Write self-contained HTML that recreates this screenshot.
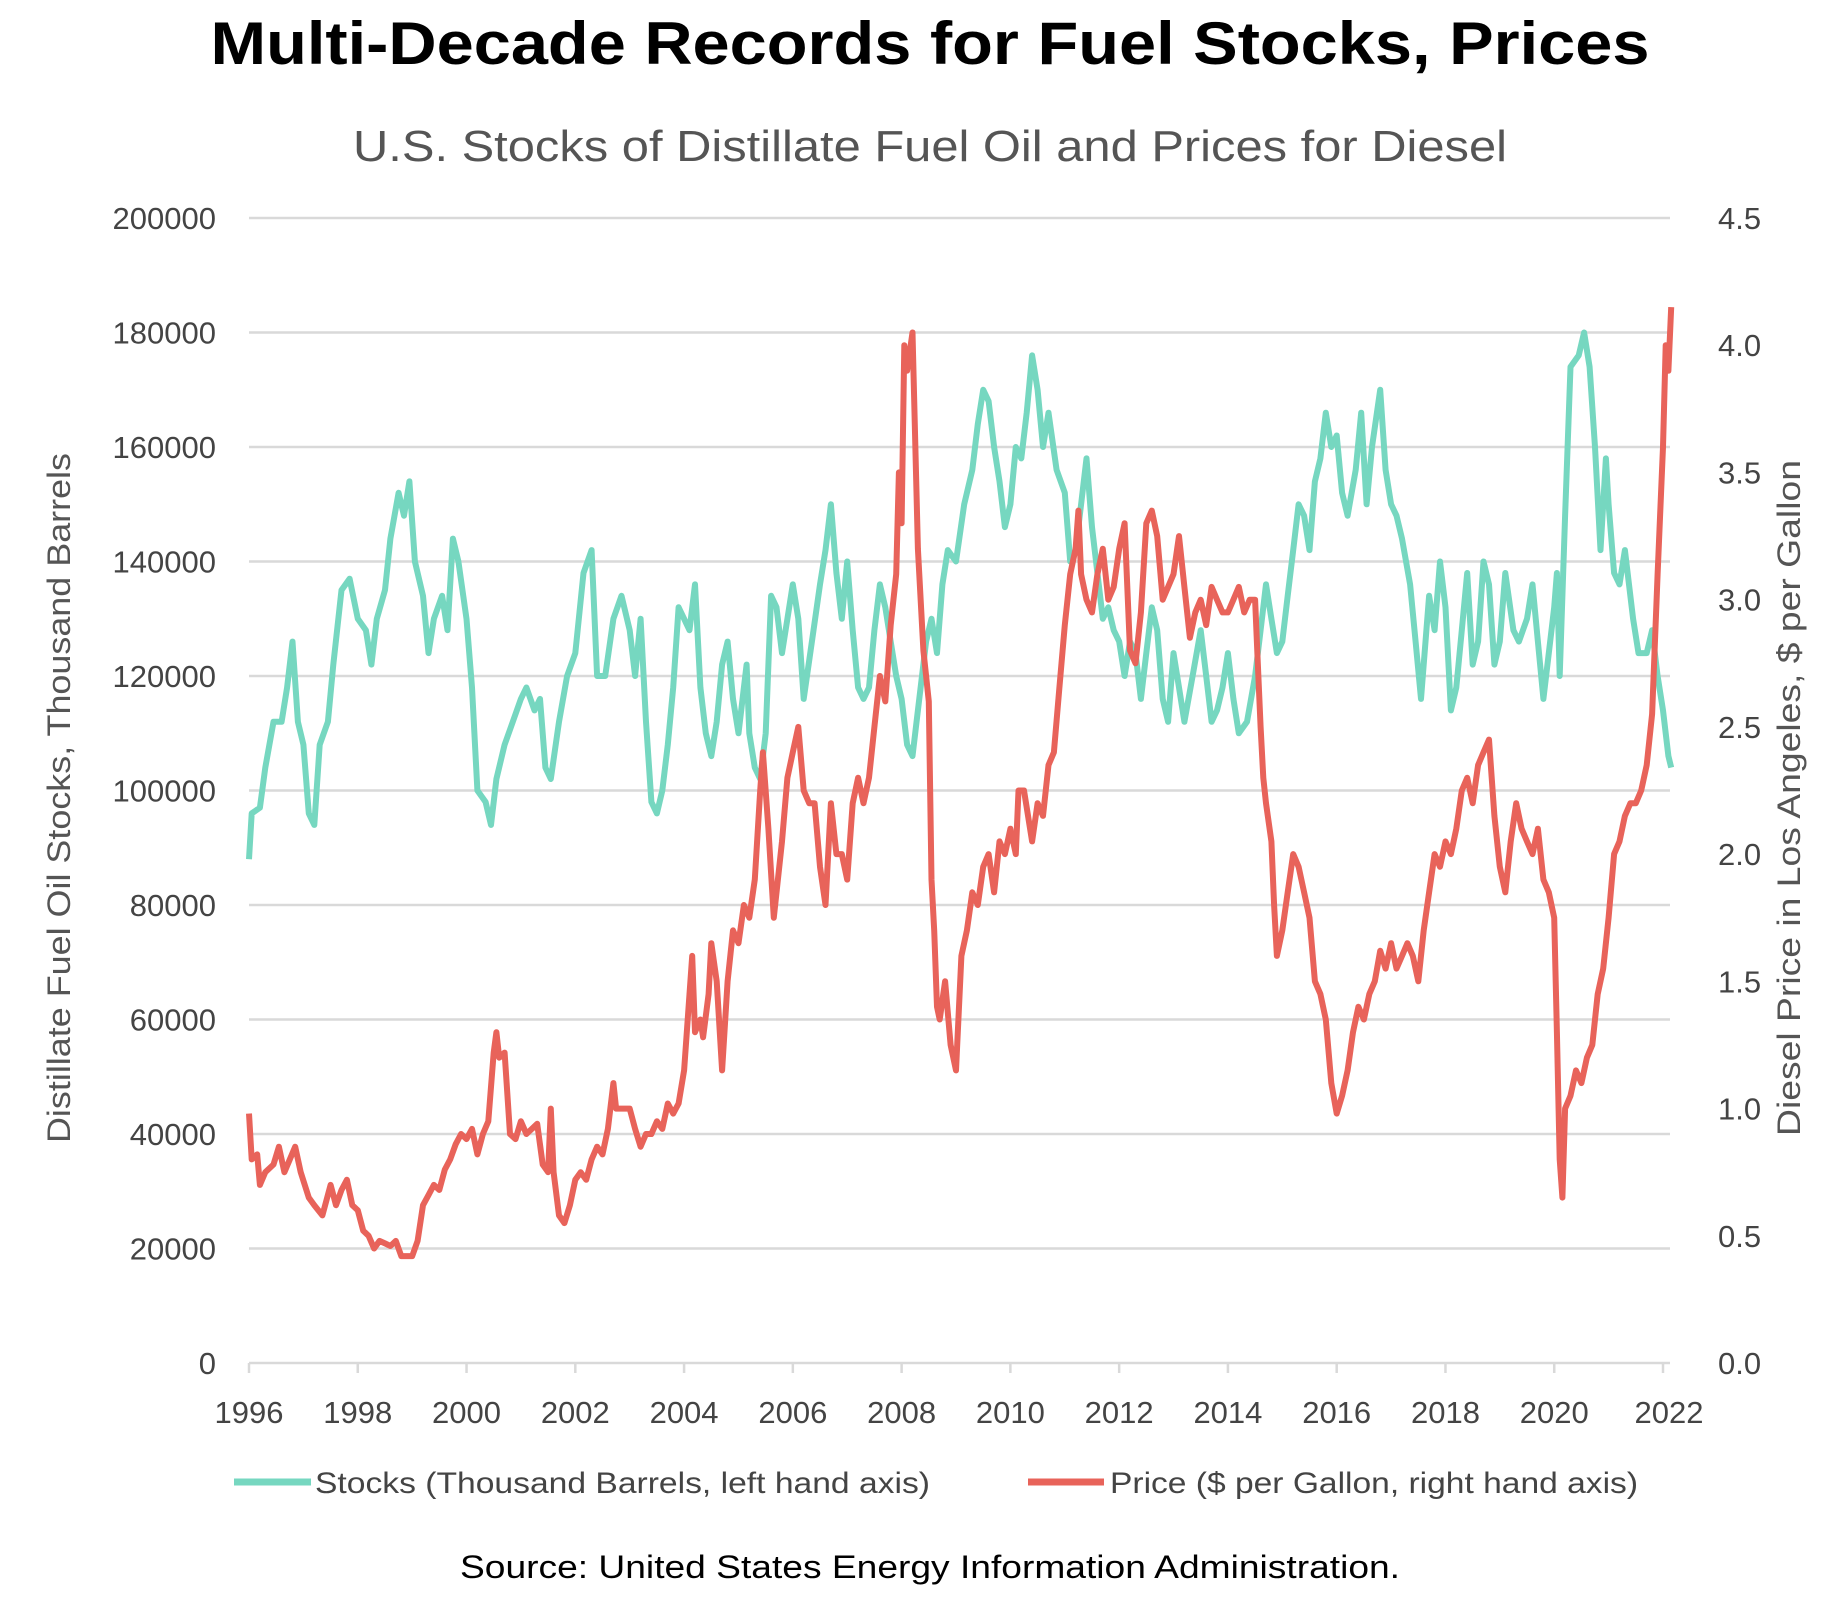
<!DOCTYPE html>
<html><head><meta charset="utf-8"><style>
body{margin:0;background:#fff;width:1845px;height:1606px;overflow:hidden;font-family:"Liberation Sans",sans-serif}
</style></head><body>
<svg id="c" width="1845" height="1606" xmlns="http://www.w3.org/2000/svg">
<text x="930" y="64" text-anchor="middle" font-size="60" font-weight="bold" fill="#000" textLength="1439" lengthAdjust="spacingAndGlyphs">Multi-Decade Records for Fuel Stocks, Prices</text>
<text x="930" y="161" text-anchor="middle" font-size="44" fill="#555" textLength="1154" lengthAdjust="spacingAndGlyphs">U.S. Stocks of Distillate Fuel Oil and Prices for Diesel</text>
<g id="grid"></g>
<g id="lt"></g>
<g id="rt"></g>
<g id="xt"></g>
<text transform="translate(70,798) rotate(-90)" text-anchor="middle" font-size="32" fill="#555" textLength="690" lengthAdjust="spacingAndGlyphs">Distillate Fuel Oil Stocks, Thousand Barrels</text>
<text transform="translate(1800,798) rotate(-90)" text-anchor="middle" font-size="32" fill="#555" textLength="676" lengthAdjust="spacingAndGlyphs">Diesel Price in Los Angeles, $ per Gallon</text>
<path id="stocks" fill="none" stroke="#76d7c0" stroke-width="6" stroke-linejoin="round"/>
<path id="price" fill="none" stroke="#e8635a" stroke-width="6" stroke-linejoin="round"/>
<g><line x1="234" y1="1482" x2="311" y2="1482" stroke="#76d7c0" stroke-width="7"/><text x="315" y="1493" font-size="30" fill="#444" textLength="615" lengthAdjust="spacingAndGlyphs">Stocks (Thousand Barrels, left hand axis)</text></g>
<g><line x1="1028" y1="1482" x2="1104" y2="1482" stroke="#e8635a" stroke-width="7"/><text x="1110" y="1493" font-size="30" fill="#444" textLength="528" lengthAdjust="spacingAndGlyphs">Price ($ per Gallon, right hand axis)</text></g>
<text x="930" y="1578" text-anchor="middle" font-size="32" fill="#000" textLength="940" lengthAdjust="spacingAndGlyphs">Source: United States Energy Information Administration.</text>
</svg>
<script>
const leftTicks=[0,20000,40000,60000,80000,100000,120000,140000,160000,180000,200000];
const rightTicks=["0.0","0.5","1.0","1.5","2.0","2.5","3.0","3.5","4.0","4.5"];
const yearTicks=[1996,1998,2000,2002,2004,2006,2008,2010,2012,2014,2016,2018,2020,2022];
const stockDates=[1996.0,1996.05,1996.2,1996.3,1996.45,1996.6,1996.7,1996.8,1996.9,1997.0,1997.1,1997.2,1997.3,1997.45,1997.55,1997.7,1997.85,1998.0,1998.15,1998.25,1998.35,1998.5,1998.6,1998.75,1998.85,1998.95,1999.05,1999.2,1999.3,1999.4,1999.55,1999.65,1999.75,1999.85,2000.0,2000.1,2000.2,2000.35,2000.45,2000.55,2000.7,2000.85,2001.0,2001.1,2001.25,2001.35,2001.45,2001.55,2001.7,2001.85,2002.0,2002.15,2002.3,2002.4,2002.55,2002.7,2002.85,2003.0,2003.1,2003.2,2003.3,2003.4,2003.5,2003.6,2003.7,2003.8,2003.9,2004.0,2004.1,2004.2,2004.3,2004.4,2004.5,2004.6,2004.7,2004.8,2004.9,2005.0,2005.15,2005.2,2005.3,2005.4,2005.5,2005.6,2005.7,2005.8,2005.9,2006.0,2006.1,2006.2,2006.35,2006.5,2006.6,2006.7,2006.8,2006.9,2007.0,2007.1,2007.2,2007.3,2007.4,2007.5,2007.6,2007.7,2007.8,2007.9,2008.0,2008.1,2008.2,2008.3,2008.45,2008.55,2008.65,2008.75,2008.85,2009.0,2009.15,2009.3,2009.4,2009.5,2009.6,2009.7,2009.8,2009.9,2010.0,2010.1,2010.2,2010.3,2010.4,2010.5,2010.6,2010.7,2010.85,2011.0,2011.1,2011.2,2011.3,2011.4,2011.5,2011.6,2011.7,2011.8,2011.9,2012.0,2012.1,2012.2,2012.3,2012.4,2012.5,2012.6,2012.7,2012.8,2012.9,2013.0,2013.1,2013.2,2013.35,2013.5,2013.6,2013.7,2013.8,2013.9,2014.0,2014.1,2014.2,2014.35,2014.5,2014.6,2014.7,2014.8,2014.9,2015.0,2015.1,2015.2,2015.3,2015.4,2015.5,2015.6,2015.7,2015.8,2015.9,2016.0,2016.1,2016.2,2016.35,2016.45,2016.55,2016.65,2016.8,2016.9,2017.0,2017.1,2017.2,2017.35,2017.45,2017.55,2017.7,2017.8,2017.9,2018.0,2018.1,2018.2,2018.3,2018.4,2018.5,2018.6,2018.7,2018.8,2018.9,2019.0,2019.1,2019.25,2019.35,2019.5,2019.6,2019.7,2019.8,2019.9,2020.0,2020.05,2020.1,2020.2,2020.3,2020.45,2020.55,2020.65,2020.75,2020.85,2020.95,2021.0,2021.1,2021.2,2021.3,2021.45,2021.55,2021.7,2021.8,2021.9,2022.0,2022.1,2022.15];
const stockValues=[88,96,97,104,112,112,118,126,112,108,96,94,108,112,122,135,137,130,128,122,130,135,144,152,148,154,140,134,124,130,134,128,144,140,130,118,100,98,94,102,108,112,116,118,114,116,104,102,112,120,124,138,142,120,120,130,134,128,120,130,112,98,96,100,108,118,132,130,128,136,118,110,106,112,122,126,116,110,122,110,104,102,110,134,132,124,130,136,130,116,126,136,142,150,138,130,140,128,118,116,118,128,136,132,126,120,116,108,106,114,126,130,124,136,142,140,150,156,164,170,168,160,154,146,150,160,158,166,176,170,160,166,156,152,140,142,150,158,146,138,130,132,128,126,120,126,124,116,124,132,128,116,112,124,118,112,120,128,120,112,114,118,124,116,110,112,120,128,136,130,124,126,134,142,150,148,142,154,158,166,160,162,152,148,156,166,150,160,170,156,150,148,144,136,126,116,134,128,140,132,114,118,128,138,122,126,140,136,122,126,138,128,126,130,136,126,116,124,132,138,120,148,174,176,180,174,160,142,158,150,138,136,142,130,124,124,128,120,114,106,104];
const priceDates=[1996.0,1996.05,1996.15,1996.2,1996.3,1996.45,1996.55,1996.65,1996.75,1996.85,1996.95,1997.1,1997.2,1997.35,1997.5,1997.6,1997.7,1997.8,1997.9,1998.0,1998.1,1998.2,1998.3,1998.4,1998.5,1998.6,1998.7,1998.8,1998.9,1999.0,1999.1,1999.2,1999.3,1999.4,1999.5,1999.6,1999.7,1999.8,1999.9,2000.0,2000.1,2000.2,2000.3,2000.4,2000.5,2000.55,2000.6,2000.7,2000.8,2000.9,2001.0,2001.1,2001.2,2001.3,2001.4,2001.5,2001.55,2001.6,2001.7,2001.8,2001.9,2002.0,2002.1,2002.2,2002.3,2002.4,2002.5,2002.6,2002.7,2002.75,2003.0,2003.1,2003.2,2003.3,2003.4,2003.5,2003.6,2003.7,2003.8,2003.9,2004.0,2004.1,2004.15,2004.2,2004.3,2004.35,2004.45,2004.5,2004.6,2004.7,2004.8,2004.9,2005.0,2005.1,2005.2,2005.3,2005.4,2005.45,2005.55,2005.65,2005.8,2005.9,2006.0,2006.1,2006.2,2006.3,2006.4,2006.5,2006.6,2006.7,2006.8,2006.9,2007.0,2007.1,2007.2,2007.3,2007.4,2007.5,2007.6,2007.7,2007.8,2007.9,2007.95,2008.0,2008.05,2008.1,2008.2,2008.3,2008.4,2008.5,2008.55,2008.6,2008.65,2008.7,2008.8,2008.9,2009.0,2009.1,2009.2,2009.3,2009.4,2009.5,2009.6,2009.7,2009.8,2009.9,2010.0,2010.1,2010.15,2010.25,2010.4,2010.5,2010.6,2010.7,2010.8,2010.9,2011.0,2011.1,2011.2,2011.25,2011.3,2011.4,2011.5,2011.6,2011.7,2011.8,2011.9,2012.0,2012.1,2012.2,2012.3,2012.4,2012.5,2012.6,2012.7,2012.8,2012.9,2013.0,2013.1,2013.2,2013.3,2013.4,2013.5,2013.6,2013.7,2013.8,2013.9,2014.0,2014.1,2014.2,2014.3,2014.4,2014.5,2014.55,2014.6,2014.65,2014.7,2014.8,2014.85,2014.9,2015.0,2015.1,2015.2,2015.3,2015.4,2015.5,2015.6,2015.7,2015.8,2015.9,2016.0,2016.1,2016.2,2016.3,2016.4,2016.5,2016.6,2016.7,2016.8,2016.9,2017.0,2017.1,2017.2,2017.3,2017.4,2017.5,2017.6,2017.7,2017.8,2017.9,2018.0,2018.1,2018.2,2018.3,2018.4,2018.5,2018.6,2018.7,2018.8,2018.9,2019.0,2019.1,2019.2,2019.3,2019.4,2019.5,2019.6,2019.7,2019.8,2019.9,2020.0,2020.05,2020.1,2020.15,2020.2,2020.3,2020.4,2020.5,2020.6,2020.7,2020.8,2020.9,2021.0,2021.1,2021.2,2021.3,2021.4,2021.5,2021.6,2021.7,2021.8,2021.9,2022.0,2022.05,2022.1,2022.15];
const priceValues=[0.98,0.8,0.82,0.7,0.75,0.78,0.85,0.75,0.8,0.85,0.75,0.65,0.62,0.58,0.7,0.62,0.68,0.72,0.62,0.6,0.52,0.5,0.45,0.48,0.47,0.46,0.48,0.42,0.42,0.42,0.48,0.62,0.66,0.7,0.68,0.76,0.8,0.86,0.9,0.88,0.92,0.82,0.9,0.95,1.22,1.3,1.2,1.22,0.9,0.88,0.95,0.9,0.92,0.94,0.78,0.75,1.0,0.75,0.58,0.55,0.62,0.72,0.75,0.72,0.8,0.85,0.82,0.92,1.1,1.0,1.0,0.92,0.85,0.9,0.9,0.95,0.92,1.02,0.98,1.02,1.15,1.45,1.6,1.3,1.35,1.28,1.45,1.65,1.5,1.15,1.5,1.7,1.65,1.8,1.75,1.9,2.25,2.4,2.1,1.75,2.05,2.3,2.4,2.5,2.25,2.2,2.2,1.95,1.8,2.2,2.0,2.0,1.9,2.2,2.3,2.2,2.3,2.5,2.7,2.6,2.9,3.1,3.5,3.3,4.0,3.9,4.05,3.2,2.8,2.6,1.9,1.7,1.4,1.35,1.5,1.25,1.15,1.6,1.7,1.85,1.8,1.95,2.0,1.85,2.05,2.0,2.1,2.0,2.25,2.25,2.05,2.2,2.15,2.35,2.4,2.65,2.9,3.1,3.2,3.35,3.1,3.0,2.95,3.1,3.2,3.0,3.05,3.2,3.3,2.8,2.75,2.95,3.3,3.35,3.25,3.0,3.05,3.1,3.25,3.05,2.85,2.95,3.0,2.9,3.05,3.0,2.95,2.95,3.0,3.05,2.95,3.0,3.0,2.75,2.5,2.3,2.2,2.05,1.8,1.6,1.7,1.85,2.0,1.95,1.85,1.75,1.5,1.45,1.35,1.1,0.98,1.05,1.15,1.3,1.4,1.35,1.45,1.5,1.62,1.55,1.65,1.55,1.6,1.65,1.6,1.5,1.7,1.85,2.0,1.95,2.05,2.0,2.1,2.25,2.3,2.2,2.35,2.4,2.45,2.15,1.95,1.85,2.05,2.2,2.1,2.05,2.0,2.1,1.9,1.85,1.75,1.3,0.8,0.65,1.0,1.05,1.15,1.1,1.2,1.25,1.45,1.55,1.75,2.0,2.05,2.15,2.2,2.2,2.25,2.35,2.55,3.1,3.6,4.0,3.9,4.15];
const NS="http://www.w3.org/2000/svg";
const X0=249,X1=1663,YB=1363,YT=218,GX2=1670;
const xs=t=>X0+(t-1996)/(2022-1996)*(X1-X0);
const yl=v=>YB-v/200000*(YB-YT);
const yr=v=>YB-v/4.5*(YB-YT);
function mk(tag,attrs,parent,txt){const e=document.createElementNS(NS,tag);for(const k in attrs)e.setAttribute(k,attrs[k]);if(txt!=null)e.textContent=txt;document.getElementById(parent).appendChild(e);return e;}
leftTicks.forEach(v=>{
 const g=mk('line',{x1:X0,x2:GX2,y1:yl(v),y2:yl(v),stroke:'#d9d9d9','stroke-width':2.5},'grid');
 
 
 const t=mk('text',{x:216,y:yl(v)+11,'text-anchor':'end','font-size':31,fill:'#444'},'lt',v);
 
 
});
rightTicks.forEach(v=>{
 const t=mk('text',{x:1718,y:yr(+v)+11,'font-size':31,fill:'#444'},'rt',v);
 
 
});
yearTicks.forEach(y=>{
 const l=mk('line',{x1:xs(y),x2:xs(y),y1:YB,y2:YB+10,stroke:'#d9d9d9','stroke-width':2.5},'xt');
 
 
 const t=mk('text',{x:xs(y)+(y==2022?6:0),y:1423,'text-anchor':'middle','font-size':31,fill:'#444'},'xt',y);
 
 
});
document.getElementById('stocks').setAttribute('d',stockDates.map((t,i)=>(i?'L':'M')+xs(t).toFixed(1)+','+yl(stockValues[i]*1000).toFixed(1)).join(''));
document.getElementById('price').setAttribute('d',priceDates.map((t,i)=>(i?'L':'M')+xs(t).toFixed(1)+','+yr(priceValues[i]).toFixed(1)).join(''));
</script>
</body></html>
